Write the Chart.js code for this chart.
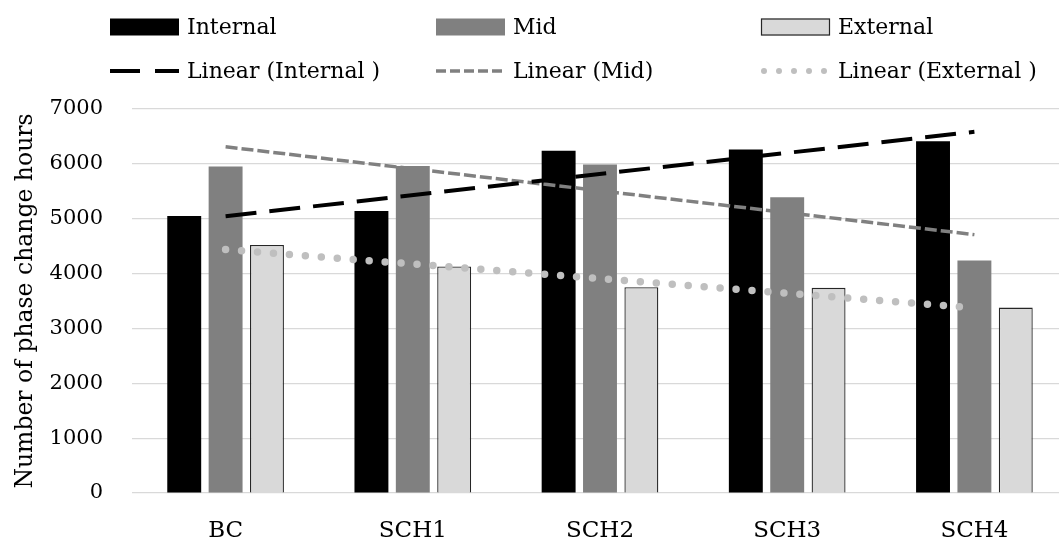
<!DOCTYPE html>
<html>
<head>
<meta charset="UTF-8">
<title>Phase change hours</title>
<script src="https://cdn.jsdelivr.net/npm/chart.js@4.4.1/dist/chart.umd.min.js"></script>
<style>
  html, body { margin: 0; padding: 0; background: #fff; overflow: hidden; }
  .chart-box { position: relative; width: 1068px; height: 543px; }
</style>
</head>
<body>
<div class="chart-box">
  <canvas id="chart"></canvas>
</div>

<script>
// categories and values
const cases = ['BC', 'SCH1', 'SCH2', 'SCH3', 'SCH4']
const internalHours = [5050, 5140, 6240, 6260, 6410]
const midHours = [5950, 5960, 5990, 5390, 4240]
const externalHours = [4520, 4130, 3750, 3740, 3380]
// trendline ends (BC and SCH4), the line is drawn straight between them
const internalTrend = [5045, null, null, null, 6585]
const midTrend = [6310, null, null, null, 4710]
const externalTrend = [4440, null, null, null, 3375]
const yTicks = [0, 1000, 2000, 3000, 4000, 5000, 6000, 7000]

const serif = 'DejaVu Serif'

// legend laid out as a fixed 3 x 2 grid, like the original
const gridLegend = {
  id: 'gridLegend',
  afterDraw(chart) {
    const ctx = chart.ctx
    const colX = [110, 436, 761]
    const rowY = [27, 71]
    const swatchW = 69
    ctx.save()
    ctx.font = '22px "' + serif + '"'
    ctx.textBaseline = 'middle'
    ctx.fillStyle = '#000'
    chart.data.datasets.forEach((ds, i) => {
      const x = colX[i % 3]
      const y = rowY[Math.floor(i / 3)]
      if (ds.type === 'line') {
        ctx.beginPath()
        ctx.strokeStyle = ds.borderColor
        ctx.lineWidth = ds.legendWidth || ds.borderWidth
        ctx.lineCap = ds.borderCapStyle || 'butt'
        ctx.setLineDash(ds.legendDash || ds.borderDash)
        ctx.moveTo(x + (ds.legendStart || 0), y)
        ctx.lineTo(x + swatchW, y)
        ctx.stroke()
        ctx.setLineDash([])
      } else {
        ctx.fillStyle = ds.backgroundColor
        ctx.fillRect(x, y - 8.5, swatchW, 17)
        if (ds.borderWidth) {
          ctx.strokeStyle = ds.borderColor
          ctx.lineWidth = 1.2
          ctx.strokeRect(x + 0.5, y - 8, swatchW - 1, 16)
        }
      }
      ctx.fillStyle = '#000'
      ctx.fillText(ds.label, x + swatchW + 8, y + 1)
    })
    ctx.restore()
  }
}

const ctx = document.querySelector('#chart').getContext('2d')
const chart = new Chart(ctx, {
  type: 'bar',
  data: {
    labels: cases,
    datasets: [
      { label: 'Internal', data: internalHours, backgroundColor: '#000000', order: 1 },
      { label: 'Mid', data: midHours, backgroundColor: '#808080', order: 1 },
      { label: 'External', data: externalHours, backgroundColor: '#d9d9d9',
        borderColor: '#262626', borderWidth: 1.3, order: 1 },
      { type: 'line', label: 'Linear (Internal )', data: internalTrend, spanGaps: true,
        borderColor: '#000000', borderWidth: 4, borderDash: [31, 13],
        legendDash: [30, 15], pointRadius: 0, order: 0 },
      { type: 'line', label: 'Linear (Mid)', data: midTrend, spanGaps: true,
        borderColor: '#808080', borderWidth: 3.5, borderDash: [12, 4],
        legendDash: [10, 4], pointRadius: 0, order: 0 },
      { type: 'line', label: 'Linear (External )', data: externalTrend, spanGaps: true,
        borderColor: '#bfbfbf', borderWidth: 7.5, borderCapStyle: 'round', borderDash: [0, 16],
        legendDash: [0, 15], legendWidth: 6, legendStart: 3, pointRadius: 0, order: 0 }
    ]
  },
  options: {
    responsive: true,
    maintainAspectRatio: false,
    animation: false,
    categoryPercentage: 0.663,
    barPercentage: 0.82,
    layout: { padding: { top: 109, left: 0, right: 0, bottom: 0 } },
    plugins: {
      legend: { display: false },
      tooltip: { enabled: false }
    },
    scales: {
      x: {
        afterFit: s => { s.height = 50 },
        grid: { display: false, drawTicks: false },
        border: { display: false },
        ticks: {
          color: '#000',
          padding: 27,
          font: { family: serif, size: 23, lineHeight: 1 }
        }
      },
      y: {
        min: 0,
        max: 7000,
        afterFit: s => { s.width = 132 },
        afterBuildTicks: s => { s.ticks = yTicks.map(v => ({ value: v })) },
        grid: { color: '#d9d9d9', lineWidth: 1.2, drawTicks: false },
        border: { display: false },
        ticks: {
          color: '#000',
          padding: 29,
          font: { family: serif, size: 21 },
          callback: v => String(v)
        },
        title: {
          display: true,
          text: 'Number of phase change hours',
          color: '#000',
          padding: { top: 12, bottom: 4 },
          font: { family: serif, size: 23.5, lineHeight: 1.2 }
        }
      }
    }
  },
  plugins: [gridLegend]
})
</script>
</body>
</html>
